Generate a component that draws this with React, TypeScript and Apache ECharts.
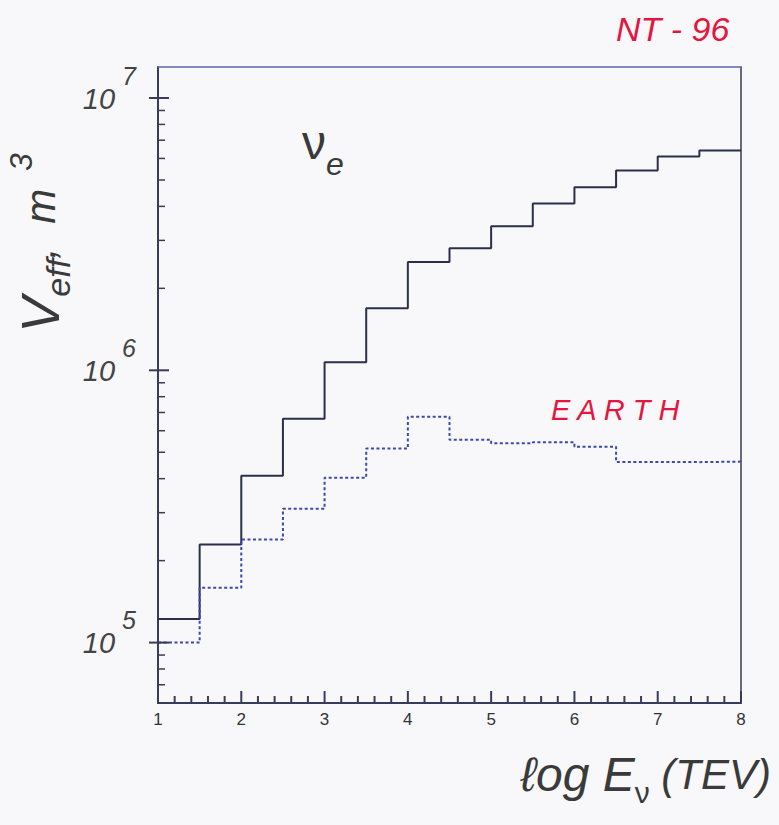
import React, { useEffect, useRef } from "react";
import * as echarts from "echarts";

// Bin edges in log10(E / TeV) and the effective volume (m^3) per bin
const binEdges = [1, 1.5, 2, 2.5, 3, 3.5, 4, 4.5, 5, 5.5, 6, 6.5, 7, 7.5, 8];
const nuEVolume = [
  1.22e5, 2.29e5, 4.1e5, 6.64e5, 1.07e6, 1.69e6, 2.5e6, 2.81e6, 3.38e6, 4.1e6,
  4.7e6, 5.42e6, 6.1e6, 6.42e6,
];
const earthVolume = [
  1.0e5, 1.59e5, 2.39e5, 3.1e5, 4.03e5, 5.16e5, 6.75e5, 5.56e5, 5.4e5, 5.44e5,
  5.24e5, 4.61e5, 4.6e5, 4.62e5,
];

// Log-axis tick marks: 2..9 x 10^n minors, 10^n majors
const yTickValues = [
  6e4, 7e4, 8e4, 9e4, 1e5, 2e5, 3e5, 4e5, 5e5, 6e5, 7e5, 8e5, 9e5, 1e6, 2e6,
  3e6, 4e6, 5e6, 6e6, 7e6, 8e6, 9e6, 1e7,
];
const xTickLabels = ["1", "2", "3", "4", "5", "6", "7", "8"];
// x ticks every 0.2, majors on integers
const xTickValues = Array.from({ length: 36 }, (_, i) => Math.round((1 + i * 0.2) * 10) / 10);

const Y_MIN = 6e4;
const Y_MAX = 1.3e7;

const ink = "#383b5a";
const frame = "#5c64b0";
const red = "#e4153f";
const hand = "Liberation Sans";
const textInk = "#3a3a3a";

function stepPoints(values: number[]) {
  return binEdges.map((x, i) => [x, values[Math.min(i, values.length - 1)]]);
}

function isDecade(v: number) {
  const e = Math.log10(v);
  return Math.abs(e - Math.round(e)) < 1e-9;
}

// One tick table for both axes: [x, y, axis] where axis 0 = left, 1 = bottom
const tickRows = [
  ...yTickValues.map((v) => [1, v, 0]),
  ...xTickValues.map((x) => [x, Y_MIN, 1]),
];

const hiddenParts = {
  axisTick: { show: false },
  minorTick: { show: false },
  axisLabel: { show: false },
  splitLine: { show: false },
};

export default function App() {
  const ref = useRef<HTMLDivElement>(null);

  useEffect(() => {
    if (!ref.current) return;
    const chart = echarts.init(ref.current, undefined, { renderer: "svg" });

    chart.setOption({
      animation: false,
      backgroundColor: "#f8f8fa",
      grid: { left: 158, right: 38, top: 67, bottom: 122 },
      xAxis: [
        {
          type: "value",
          min: 1,
          max: 8,
          interval: 1,
          axisLine: { show: true, lineStyle: { color: ink, width: 2 } },
          axisTick: { show: false },
          minorTick: { show: false },
          splitLine: { show: false },
          axisLabel: {
            margin: 8,
            color: "#333",
            fontFamily: hand,
            fontSize: 17,
            formatter: (v: number) => xTickLabels[Math.round(v) - 1] ?? "",
          },
        },
        {
          type: "value",
          min: 1,
          max: 8,
          position: "top",
          axisLine: { show: true, lineStyle: { color: frame, width: 1.5 } },
          ...hiddenParts,
        },
      ],
      yAxis: [
        {
          type: "log",
          logBase: 10,
          min: Y_MIN,
          max: Y_MAX,
          axisLine: { show: true, lineStyle: { color: ink, width: 2 } },
          axisTick: { show: false },
          minorTick: { show: false },
          splitLine: { show: false },
          axisLabel: {
            margin: 22,
            padding: [0, 0, 20, 0],
            formatter: (v: number) =>
              isDecade(v) ? `{b|10}{s|${Math.round(Math.log10(v))}}` : "",
            rich: {
              b: {
                fontSize: 29,
                lineHeight: 50,
                fontStyle: "italic",
                fontFamily: hand,
                color: "#444",
                verticalAlign: "bottom",
              },
              s: {
                fontSize: 25,
                fontStyle: "italic",
                fontFamily: hand,
                color: "#444",
                verticalAlign: "top",
                padding: [0, 0, 0, 7],
              },
            },
          },
        },
        {
          type: "log",
          logBase: 10,
          min: Y_MIN,
          max: Y_MAX,
          position: "right",
          axisLine: { show: true, lineStyle: { color: ink, width: 1.5 } },
          ...hiddenParts,
        },
      ],
      series: [
        {
          name: "nu_e",
          type: "line",
          step: "end",
          data: stepPoints(nuEVolume),
          showSymbol: false,
          lineStyle: { color: "#2c2f4a", width: 2 },
          z: 3,
        },
        {
          name: "EARTH",
          type: "line",
          step: "end",
          data: stepPoints(earthVolume),
          showSymbol: false,
          lineStyle: { color: "#3a48b0", width: 2, type: [3, 2.5] },
          z: 3,
        },
        {
          type: "custom",
          clip: false,
          z: 6,
          data: tickRows,
          renderItem: (_params: any, api: any) => {
            const onBottom = api.value(2) === 1;
            const x = api.value(0);
            const v = api.value(1);
            const p = api.coord([x, v]);
            if (onBottom) {
              const major = Math.abs(x - Math.round(x)) < 1e-9;
              return {
                type: "line",
                shape: { x1: p[0], y1: p[1] - 1, x2: p[0], y2: p[1] - (major ? 12 : 7) },
                style: { stroke: ink, lineWidth: 2 },
              };
            }
            const major = isDecade(v);
            return {
              type: "line",
              shape: {
                x1: p[0] - (major ? 9 : 0),
                y1: p[1],
                x2: p[0] + (major ? 11 : 7),
                y2: p[1],
              },
              style: { stroke: ink, lineWidth: major ? 2 : 1.5 },
            };
          },
        },
      ],
      graphic: [
        {
          type: "text",
          left: 616,
          top: 12,
          style: {
            text: "NT - 96",
            fill: red,
            font: `italic 34px "${hand}"`,
          },
        },
        {
          type: "text",
          left: 551,
          top: 395,
          style: {
            text: "E A R T H",
            fill: red,
            font: `italic 29px "${hand}"`,
          },
        },
        {
          type: "text",
          left: 302,
          top: 118,
          style: {
            text: "{n|ν}{e|e}",
            rich: {
              n: { fontSize: 48, fontFamily: hand, fill: textInk, lineHeight: 62, verticalAlign: "top" },
              e: { fontSize: 32, fontFamily: hand, fontStyle: "italic", fill: textInk, lineHeight: 62, verticalAlign: "bottom" },
            },
          },
        },
        {
          type: "text",
          x: 40,
          y: 243,
          rotation: Math.PI / 2,
          style: {
            text: "{v|V}{sub|eff}{m|,  m}{sup|  3}",
            align: "center",
            verticalAlign: "middle",
            rich: {
              v: { fontSize: 54, fontFamily: hand, fontStyle: "italic", fill: textInk, lineHeight: 70, verticalAlign: "middle" },
              sub: { fontSize: 34, fontFamily: hand, fontStyle: "italic", fill: textInk, lineHeight: 70, verticalAlign: "bottom" },
              m: { fontSize: 42, fontFamily: hand, fontStyle: "italic", fill: textInk, lineHeight: 70, verticalAlign: "middle" },
              sup: { fontSize: 32, fontFamily: hand, fontStyle: "italic", fill: textInk, lineHeight: 70, verticalAlign: "top" },
            },
          },
        },
        {
          type: "text",
          right: 8,
          top: 750,
          style: {
            text: "{l|ℓog E}{nu|ν}{p| (TEV)}",
            rich: {
              l: { fontSize: 48, fontFamily: hand, fontStyle: "italic", fill: textInk, lineHeight: 66, verticalAlign: "middle" },
              nu: { fontSize: 30, fontFamily: hand, fill: textInk, lineHeight: 66, verticalAlign: "bottom" },
              p: { fontSize: 42, fontFamily: hand, fontStyle: "italic", fill: textInk, lineHeight: 66, verticalAlign: "middle" },
            },
          },
        },
      ],
    });

    return () => chart.dispose();
  }, []);

  return (
    <div
      ref={ref}
      style={{ position: "fixed", left: 0, top: 0, width: 779, height: 825 }}
    />
  );
}
